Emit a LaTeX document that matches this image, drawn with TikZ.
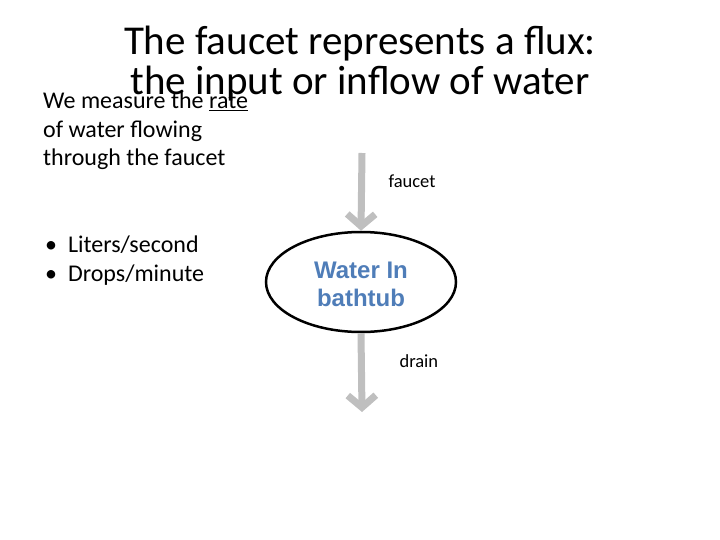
\documentclass[tikz,border=0pt]{standalone}
\usepackage{fontspec}
\setmainfont{Carlito}
\newfontfamily\arialf{Liberation Sans}
\usetikzlibrary{arrows.meta,shapes.geometric}
\definecolor{flowgray}{HTML}{BFBFBF}
\definecolor{tubblue}{HTML}{4F7DB8}
\begin{document}
\begin{tikzpicture}[x=1pt,y=-1pt,
  flow/.style={draw=flowgray,line width=7pt,-{Straight Barb[length=12pt,width=28pt,line width=7pt]}},
  lbl/.style={font=\fontsize{18.5}{22}\selectfont,anchor=west},
  body/.style={font=\fontsize{24}{28.5}\selectfont,align=left,anchor=base west,inner sep=0pt}]
\useasboundingbox (0,0) rectangle (720,540);
\node[font=\fontsize{41}{40}\selectfont,align=center] (title) at (360,64) {The faucet represents a flux:\\ the input or inflow of water};
\node[body] (desc) at (43,166) {We measure the \underline{rate}\\of water flowing\\through the faucet};
\node[body] (units) at (45,281) {\textbullet\ \ Liters/second\\\textbullet\ \ Drops/minute};
\node[draw,line width=2.5pt,ellipse,minimum width=190pt,minimum height=100pt,inner sep=0pt] (tub) at (361,282) {};
\node[font=\arialf\bfseries\fontsize{24}{28}\selectfont,text=tubblue,align=center] (tubtxt) at (361,284) {Water In\\bathtub};
\coordinate (ftop) at (362,153);
\coordinate (dbot) at (362,412);
\draw[flow] (ftop) -- (tub.north);
\draw[flow] (tub.south) -- (dbot);
\node[lbl] (faucet) at (385,181) {faucet};
\node[lbl] (drain) at (396,361) {drain};
\end{tikzpicture}
\end{document}
